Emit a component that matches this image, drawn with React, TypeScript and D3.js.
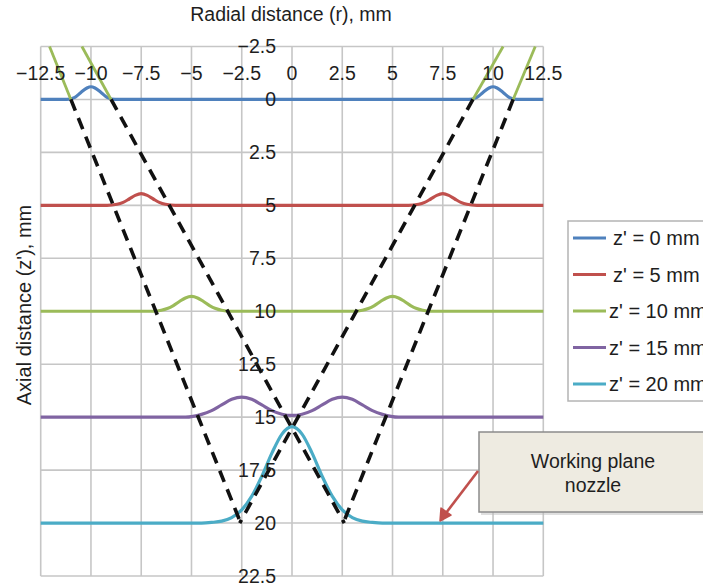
import React from "react";
import * as d3 from "d3";

// ---------- data ----------
const xTicks = [-12.5, -10, -7.5, -5, -2.5, 0, 2.5, 5, 7.5, 10, 12.5];
const yTicks = [-2.5, 0, 2.5, 5, 7.5, 10, 12.5, 15, 17.5, 20, 22.5];

const seriesNames = ["z' = 0 mm", "z' = 5 mm", "z' = 10 mm", "z' = 15 mm", "z' = 20 mm"];
const seriesColors = ["#4f81bd", "#c0504d", "#9bbb59", "#8064a2", "#4bacc6"];

// z' = 0 mm
const r0 = [-12.5, -11.2, -10.8, -10.5, -10.2, -10, -9.8, -9.5, -9.2, -8.8, 8.8, 9.2, 9.5, 9.8, 10, 10.2, 10.5, 10.8, 11.2, 12.5];
const z0 = [0, 0, -0.1, -0.33, -0.54, -0.6, -0.54, -0.33, -0.1, 0, 0, -0.1, -0.33, -0.54, -0.6, -0.54, -0.33, -0.1, 0, 0];
// z' = 5 mm
const r5 = [-12.5, -9.2, -8.7, -8.4, -8.1, -7.8, -7.5, -7.2, -6.9, -6.6, -6.3, -5.8, 5.8, 6.3, 6.6, 6.9, 7.2, 7.5, 7.8, 8.1, 8.4, 8.7, 9.2, 12.5];
const z5 = [5, 5, 4.95, 4.86, 4.7, 4.53, 4.45, 4.53, 4.7, 4.86, 4.95, 5, 5, 4.95, 4.86, 4.7, 4.53, 4.45, 4.53, 4.7, 4.86, 4.95, 5, 5];
// z' = 10 mm
const r10 = [-12.5, -6.9, -6.5, -6.2, -5.9, -5.6, -5.3, -5, -4.7, -4.4, -4.1, -3.8, -3.5, -3.1, 3.1, 3.5, 3.8, 4.1, 4.4, 4.7, 5, 5.3, 5.6, 5.9, 6.2, 6.5, 6.9, 12.5];
const z10 = [10, 10, 9.95, 9.87, 9.73, 9.54, 9.37, 9.3, 9.37, 9.54, 9.73, 9.87, 9.95, 10, 10, 9.95, 9.87, 9.73, 9.54, 9.37, 9.3, 9.37, 9.54, 9.73, 9.87, 9.95, 10, 10];
// z' = 15 mm
const r15 = [-12.5, -5.3, -4.5, -4, -3.5, -3, -2.5, -2, -1.5, -1, -0.5, 0, 0.5, 1, 1.5, 2, 2.5, 3, 3.5, 4, 4.5, 5.3, 12.5];
const z15 = [15, 15, 14.87, 14.69, 14.42, 14.16, 14.05, 14.16, 14.42, 14.69, 14.86, 14.92, 14.86, 14.69, 14.42, 14.16, 14.05, 14.16, 14.42, 14.69, 14.87, 15, 15];
// z' = 20 mm
const r20 = [-12.5, -4.5, -4, -3.5, -3, -2.5, -2, -1.5, -1, -0.5, 0, 0.5, 1, 1.5, 2, 2.5, 3, 3.5, 4, 4.5, 12.5];
const z20 = [20, 20, 19.97, 19.91, 19.74, 19.38, 18.73, 17.79, 16.7, 15.8, 15.45, 15.8, 16.7, 17.79, 18.73, 19.38, 19.74, 19.91, 19.97, 20, 20];

const seriesR = [r0, r5, r10, r15, r20];
const seriesZ = [z0, z5, z10, z15, z20];

// beam envelope lines: [start above z'=0 (green part), at z'=0, end]
const envR = [
  [-12.06, -11.0, -2.55],
  [-10.45, -9.0, 2.6],
  [12.1, 11.0, 2.55],
  [10.5, 9.0, -2.6],
];
const envZ = [-2.5, 0, 20];

const xTitle = "Radial distance (r), mm";
const yTitle = "Axial distance (z'), mm";
const calloutLines = ["Working plane", "nozzle"];

// ---------- component ----------
export default function App() {
  const W = 703;
  const H = 585;
  const x = d3.scaleLinear().domain([-12.5, 12.5]).range([40.7, 543.3]);
  const y = d3.scaleLinear().domain([-2.5, 22.5]).range([46.5, 576]);
  const line = d3
    .line<[number, number]>()
    .x((d) => x(d[0]))
    .y((d) => y(d[1]))
    .curve(d3.curveMonotoneX);
  const straight = d3
    .line<[number, number]>()
    .x((d) => x(d[0]))
    .y((d) => y(d[1]));

  const font = "'Liberation Sans', Arial, sans-serif";
  const textColor = "#1e1e1e";
  const gridColor = "#c6c6c6";

  const legendY = [238, 274.5, 311, 347.5, 384];
  const legendTextX = [613, 613, 609, 609, 609];

  return (
    <svg
      width={W}
      height={H}
      style={{ position: "absolute", left: 0, top: 0, background: "#fff" }}
      fontFamily={font}
    >
      <rect x={0} y={0} width={W} height={H} fill="#fff" />
      {/* grid */}
      {xTicks.map((t) => (
        <line key={"gx" + t} x1={x(t)} x2={x(t)} y1={y(-2.5)} y2={y(22.5)} stroke={gridColor} strokeWidth={1.6} />
      ))}
      {yTicks.map((t) => (
        <line key={"gy" + t} x1={x(-12.5)} x2={x(12.5)} y1={y(t)} y2={y(t)} stroke={gridColor} strokeWidth={1.6} />
      ))}

      {/* series */}
      {seriesR.map((rs, i) => (
        <path
          key={"s" + i}
          d={line(rs.map((r, j) => [r, seriesZ[i][j]] as [number, number])) || ""}
          fill="none"
          stroke={seriesColors[i]}
          strokeWidth={3.2}
        />
      ))}

      {/* beam envelope: green above z'=0, dashed black below */}
      {envR.map((rs, i) => (
        <g key={"env" + i}>
          <path
            d={straight([[rs[0], envZ[0]], [rs[1], envZ[1]]]) || ""}
            stroke="#9bbb59"
            strokeWidth={2.8}
            fill="none"
          />
          <path
            d={straight([[rs[1], envZ[1]], [rs[2], envZ[2]]]) || ""}
            stroke="#111"
            strokeWidth={3.6}
            strokeDasharray="12,8"
            fill="none"
          />
        </g>
      ))}

      {/* tick labels */}
      {xTicks.map((t) => (
        <text key={"xt" + t} x={x(t)} y={80} textAnchor="middle" fontSize={19.5} fill={textColor}>
          {t < 0 ? "\u2212" + Math.abs(t) : String(t)}
        </text>
      ))}
      {yTicks.map((t) => (
        <text key={"yt" + t} x={276} y={y(t) + 6.5} textAnchor="end" fontSize={19.5} fill={textColor}>
          {t < 0 ? "\u2212" + Math.abs(t) : String(t)}
        </text>
      ))}

      {/* axis titles */}
      <text x={291} y={21} textAnchor="middle" fontSize={19.5} fill={textColor}>
        {xTitle}
      </text>
      <text
        transform={`translate(31,305) rotate(-90)`}
        textAnchor="middle"
        fontSize={20}
        fill={textColor}
      >
        {yTitle}
      </text>

      {/* legend */}
      <rect x={568} y={221} width={150} height={180} fill="#fff" stroke="#b4b4b4" strokeWidth={1.5} />
      {seriesNames.map((n, i) => (
        <g key={"lg" + i}>
          <line x1={573} x2={606} y1={legendY[i]} y2={legendY[i]} stroke={seriesColors[i]} strokeWidth={3} />
          <text x={legendTextX[i]} y={legendY[i] + 7} fontSize={20} fill={textColor}>
            {n}
          </text>
        </g>
      ))}

      {/* callout */}
      <rect x={481} y={435} width={240} height={80} fill="#b8b8b8" opacity={0.45} />
      <rect x={479} y={432} width={240} height={80} fill="#eeebe1" stroke="#8c8c8c" strokeWidth={1.5} />
      {calloutLines.map((s, i) => (
        <text key={"cl" + i} x={593} y={468 + i * 24} textAnchor="middle" fontSize={19.5} fill={textColor}>
          {s}
        </text>
      ))}
      <line x1={478} y1={471} x2={446} y2={513} stroke="#c0504d" strokeWidth={2.6} />
      <path d="M440,521 L441,508 L451,515 Z" fill="#c0504d" stroke="#c0504d" strokeWidth={1.5} strokeLinejoin="round" />
    </svg>
  );
}
